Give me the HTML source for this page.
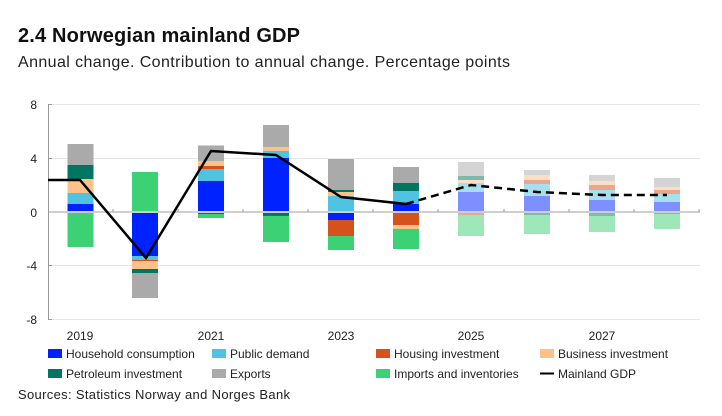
<!DOCTYPE html>
<html><head><meta charset="utf-8"><style>
body{margin:0;background:#fff;font-family:"Liberation Sans",sans-serif;}
</style></head><body>
<svg width="722" height="411" xmlns="http://www.w3.org/2000/svg" font-family="Liberation Sans, sans-serif">
<text x="18" y="42" font-size="20" font-weight="bold" fill="#111" textLength="282">2.4 Norwegian mainland GDP</text>
<text x="18" y="67" font-size="16" fill="#222" textLength="492">Annual change. Contribution to annual change. Percentage points</text>
<g stroke="#e6e6e6" stroke-width="1">
<line x1="48" y1="104.5" x2="700" y2="104.5"/><line x1="48" y1="158.5" x2="700" y2="158.5"/>
<line x1="48" y1="265.5" x2="700" y2="265.5"/><line x1="48" y1="319.5" x2="700" y2="319.5"/>
</g>
<g font-size="12" fill="#222" text-anchor="end">
<text x="37" y="109">8</text><text x="37" y="163">4</text><text x="37" y="217">0</text><text x="37" y="270">-4</text><text x="37" y="324">-8</text>
</g>
<g id="bars">
<rect x="67.5" y="144" width="26" height="21" fill="#aaa"/><rect x="67.5" y="165" width="26" height="14" fill="#007561"/><rect x="67.5" y="179" width="26" height="14" fill="#fdc28a"/><rect x="67.5" y="193" width="26" height="11" fill="#4fc3e0"/><rect x="67.5" y="204" width="26" height="8" fill="#0022ff"/><rect x="67.5" y="212" width="26" height="1" fill="#d6521c"/><rect x="67.5" y="213" width="26" height="34" fill="#3dd175"/>
<rect x="132" y="172" width="26" height="40" fill="#3dd175"/><rect x="132" y="212" width="26" height="44" fill="#0022ff"/><rect x="132" y="256" width="26" height="4" fill="#4fc3e0"/><rect x="132" y="260" width="26" height="1" fill="#d6521c"/><rect x="132" y="261" width="26" height="8" fill="#fdc28a"/><rect x="132" y="269" width="26" height="4" fill="#007561"/><rect x="132" y="273" width="26" height="25" fill="#aaa"/>
<rect x="198" y="145.5" width="26" height="15.5" fill="#aaa"/><rect x="198" y="161" width="26" height="5" fill="#fdc28a"/><rect x="198" y="166" width="26" height="3" fill="#d6521c"/><rect x="198" y="169" width="26" height="12" fill="#4fc3e0"/><rect x="198" y="181" width="26" height="31" fill="#0022ff"/><rect x="198" y="212" width="26" height="2" fill="#007561"/><rect x="198" y="214" width="26" height="4" fill="#3dd175"/>
<rect x="263" y="125" width="26" height="22" fill="#aaa"/><rect x="263" y="147" width="26" height="4" fill="#fdc28a"/><rect x="263" y="151" width="26" height="7" fill="#4fc3e0"/><rect x="263" y="158" width="26" height="54" fill="#0022ff"/><rect x="263" y="212" width="26" height="4" fill="#007561"/><rect x="263" y="216" width="26" height="26" fill="#3dd175"/>
<rect x="328" y="159" width="26" height="31" fill="#aaa"/><rect x="328" y="190" width="26" height="2" fill="#007561"/><rect x="328" y="192" width="26" height="4" fill="#fdc28a"/><rect x="328" y="196" width="26" height="16" fill="#4fc3e0"/><rect x="328" y="212" width="26" height="8" fill="#0022ff"/><rect x="328" y="220" width="26" height="16" fill="#d6521c"/><rect x="328" y="236" width="26" height="14" fill="#3dd175"/>
<rect x="393" y="167" width="26" height="16" fill="#aaa"/><rect x="393" y="183" width="26" height="8" fill="#007561"/><rect x="393" y="191" width="26" height="13" fill="#4fc3e0"/><rect x="393" y="204" width="26" height="8" fill="#0022ff"/><rect x="393" y="212" width="26" height="13" fill="#d6521c"/><rect x="393" y="225" width="26" height="4" fill="#fdc28a"/><rect x="393" y="229" width="26" height="20" fill="#3dd175"/>
<g opacity="0.5">
<rect x="458" y="162" width="26" height="14" fill="#aaa"/><rect x="458" y="176" width="26" height="4" fill="#007561"/><rect x="458" y="180" width="26" height="3" fill="#fdc28a"/><rect x="458" y="183" width="26" height="9" fill="#4fc3e0"/><rect x="458" y="192" width="26" height="20" fill="#0022ff"/><rect x="458" y="212" width="26" height="3" fill="#d6521c"/><rect x="458" y="215" width="26" height="21" fill="#3dd175"/>
<rect x="524" y="170" width="26" height="5" fill="#aaa"/><rect x="524" y="175" width="26" height="5" fill="#fdc28a"/><rect x="524" y="180" width="26" height="4" fill="#d6521c"/><rect x="524" y="184" width="26" height="12" fill="#4fc3e0"/><rect x="524" y="196" width="26" height="16" fill="#0022ff"/><rect x="524" y="212" width="26" height="3" fill="#007561"/><rect x="524" y="215" width="26" height="19" fill="#3dd175"/>
<rect x="589" y="175" width="26" height="6" fill="#aaa"/><rect x="589" y="181" width="26" height="4" fill="#fdc28a"/><rect x="589" y="185" width="26" height="5" fill="#d6521c"/><rect x="589" y="190" width="26" height="10" fill="#4fc3e0"/><rect x="589" y="200" width="26" height="12" fill="#0022ff"/><rect x="589" y="212" width="26" height="4" fill="#007561"/><rect x="589" y="216" width="26" height="16" fill="#3dd175"/>
<rect x="654" y="178" width="26" height="9" fill="#aaa"/><rect x="654" y="187" width="26" height="3" fill="#fdc28a"/><rect x="654" y="190" width="26" height="4" fill="#d6521c"/><rect x="654" y="194" width="26" height="8" fill="#4fc3e0"/><rect x="654" y="202" width="26" height="10" fill="#0022ff"/><rect x="654" y="212" width="26" height="2" fill="#007561"/><rect x="654" y="214" width="26" height="15" fill="#3dd175"/>
</g>
</g>
<line x1="48" y1="212" x2="700" y2="212" stroke="#cfcfcf" stroke-width="2"/>
<g stroke="#999" stroke-width="1">
<line x1="48.5" y1="104" x2="48.5" y2="320"/>
<line x1="48" y1="104.5" x2="52" y2="104.5"/><line x1="48" y1="158.5" x2="52" y2="158.5"/><line x1="48" y1="265.5" x2="52" y2="265.5"/><line x1="48" y1="319.5" x2="52" y2="319.5"/>
<line x1="113" y1="209" x2="113" y2="212"/><line x1="178" y1="209" x2="178" y2="212"/><line x1="243" y1="209" x2="243" y2="212"/><line x1="308" y1="209" x2="308" y2="212"/><line x1="373" y1="209" x2="373" y2="212"/><line x1="438" y1="209" x2="438" y2="212"/><line x1="504" y1="209" x2="504" y2="212"/><line x1="569" y1="209" x2="569" y2="212"/><line x1="634" y1="209" x2="634" y2="212"/><line x1="699" y1="209" x2="699" y2="212"/>
</g>
<polyline points="48,180 80,180 146,258 211,151 276,155 341,197 406,204" fill="none" stroke="#000" stroke-width="2.5"/>
<polyline points="406,204 471,185 537,192 602,195 667,195" fill="none" stroke="#000" stroke-width="2.5" stroke-dasharray="8,5"/>
<g font-size="12" fill="#222" text-anchor="middle">
<text x="80" y="340">2019</text><text x="211" y="340">2021</text><text x="341" y="340">2023</text><text x="471" y="340">2025</text><text x="602" y="340">2027</text>
</g>
<g font-size="12" fill="#222">
<rect x="48" y="349" width="14" height="9" fill="#0022ff"/><text x="66" y="358">Household consumption</text>
<rect x="212" y="349" width="14" height="9" fill="#4fc3e0"/><text x="230" y="358">Public demand</text>
<rect x="376" y="349" width="14" height="9" fill="#d6521c"/><text x="394" y="358">Housing investment</text>
<rect x="540" y="349" width="14" height="9" fill="#fdc28a"/><text x="558" y="358">Business investment</text>
<rect x="48" y="369" width="14" height="9" fill="#007561"/><text x="66" y="378">Petroleum investment</text>
<rect x="212" y="369" width="14" height="9" fill="#aaa"/><text x="230" y="378">Exports</text>
<rect x="376" y="369" width="14" height="9" fill="#3dd175"/><text x="394" y="378">Imports and inventories</text>
<line x1="540" y1="373.5" x2="554" y2="373.5" stroke="#000" stroke-width="2"/><text x="558" y="378">Mainland GDP</text>
<text x="18" y="399" font-size="13" textLength="272">Sources: Statistics Norway and Norges Bank</text>
</g>
</svg>
</body></html>
